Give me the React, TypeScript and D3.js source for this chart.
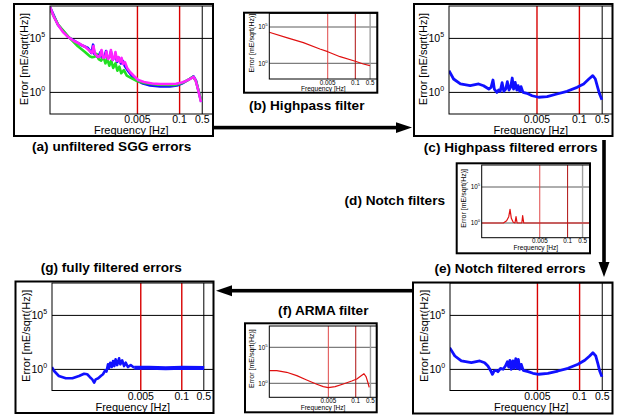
import React from 'react'
import * as d3 from 'd3'

// every curve point is [log10 frequency (Hz), log10 error (mE/sqrt(Hz))]
type Pt = [number, number]

const aBlue: Pt[] = [
  [-5.0, 7.91], [-4.75, 6.24], [-4.44, 5.13], [-4.07, 4.44], [-3.83, 4.11], [-3.72, 3.65], [-3.67, 4.42],
  [-3.63, 3.56], [-3.52, 3.24], [-3.44, 3.74], [-3.4, 3.19], [-3.32, 3.28], [-3.27, 3.83], [-3.23, 3.09],
  [-3.16, 3.28], [-3.12, 3.79], [-3.07, 3.0], [-3.01, 3.28], [-2.97, 3.37], [-2.93, 2.81], [-2.87, 3.19],
  [-2.81, 2.68], [-2.75, 2.91], [-2.69, 2.44], [-2.59, 1.98], [-2.47, 1.52], [-2.31, 1.1], [-2.13, 0.82],
  [-1.91, 0.64], [-1.6, 0.55], [-1.3, 0.55], [-1.08, 0.64], [-0.93, 0.82], [-0.74, 1.15], [-0.57, 1.48],
  [-0.49, 1.06], [-0.43, 0.31], [-0.37, -0.43], [-0.33, -0.89],
]
const aGreen: Pt[] = [
  [-5.0, 7.72], [-4.75, 6.27], [-4.44, 5.19], [-4.14, 4.27], [-3.93, 3.77], [-3.77, 3.34], [-3.7, 3.25],
  [-3.62, 3.31], [-3.56, 3.56], [-3.5, 3.09], [-3.42, 2.94], [-3.35, 3.31], [-3.29, 2.69], [-3.23, 3.09],
  [-3.17, 2.47], [-3.11, 2.94], [-3.05, 2.26], [-2.98, 2.69], [-2.92, 2.01], [-2.86, 2.38], [-2.8, 1.77],
  [-2.72, 2.07], [-2.63, 1.55], [-2.49, 1.33], [-2.34, 1.08], [-2.08, 0.87], [-1.67, 0.71], [-1.15, 0.68],
  [-0.95, 0.84], [-0.74, 1.15], [-0.59, 1.45], [-0.5, 1.08], [-0.41, 0.1], [-0.33, -0.86],
]
const aMagenta: Pt[] = [
  [-5.0, 7.91], [-4.88, 6.98], [-4.75, 6.24], [-4.6, 5.59], [-4.44, 5.13], [-4.26, 4.76], [-4.07, 4.48],
  [-3.89, 4.16], [-3.77, 3.83], [-3.7, 3.65], [-3.66, 4.3], [-3.61, 3.56], [-3.52, 3.28], [-3.46, 3.37],
  [-3.41, 3.93], [-3.36, 3.19], [-3.3, 3.28], [-3.26, 3.79], [-3.21, 3.09], [-3.15, 3.28], [-3.12, 3.93],
  [-3.07, 3.0], [-3.02, 3.19], [-2.98, 3.74], [-2.93, 2.91], [-2.89, 3.28], [-2.84, 2.81], [-2.79, 3.19],
  [-2.75, 2.63], [-2.69, 2.81], [-2.62, 2.26], [-2.53, 1.89], [-2.41, 1.52], [-2.28, 1.15], [-2.1, 0.96],
  [-1.85, 0.82], [-1.6, 0.78], [-1.36, 0.78], [-1.11, 0.8], [-0.93, 0.92], [-0.8, 1.06], [-0.68, 1.24],
  [-0.57, 1.43], [-0.51, 1.15], [-0.45, 0.5], [-0.39, -0.24], [-0.34, -0.89],
]
const cBlue: Pt[] = [
  [-5.0, 2.01], [-4.86, 1.24], [-4.65, 0.78], [-4.35, 0.62], [-4.09, 0.78], [-3.94, 0.62], [-3.78, 0.31],
  [-3.71, 0.47], [-3.65, 1.15], [-3.61, 0.31], [-3.53, 0.0], [-3.48, 0.22], [-3.43, 0.1], [-3.37, 0.9],
  [-3.32, 0.1], [-3.26, 0.31], [-3.21, 0.99], [-3.16, 0.22], [-3.11, 0.47], [-3.06, 1.33], [-3.02, 0.31],
  [-2.97, 0.93], [-2.92, 0.22], [-2.88, 0.62], [-2.83, 0.1], [-2.79, 0.53], [-2.73, 0.0], [-2.61, -0.08],
  [-2.45, -0.31], [-2.25, -0.45], [-1.99, -0.4], [-1.69, -0.15], [-1.38, 0.1], [-1.07, 0.47], [-0.87, 0.78],
  [-0.71, 1.24], [-0.59, 1.55], [-0.51, 1.24], [-0.44, 0.47], [-0.38, -0.15], [-0.31, -0.68],
]
const eBlue: Pt[] = [
  [-5.01, 2.01], [-4.85, 1.24], [-4.65, 0.78], [-4.34, 0.62], [-4.08, 0.78], [-3.93, 0.62], [-3.83, 0.31],
  [-3.74, -0.15], [-3.69, -0.45], [-3.64, -0.15], [-3.57, -0.09], [-3.52, -0.21], [-3.44, 0.1], [-3.36, 0.01],
  [-3.29, 0.31], [-3.23, 0.71], [-3.19, 0.22], [-3.15, 0.84], [-3.11, 0.01], [-3.06, 0.78], [-3.02, 0.1],
  [-2.97, 0.99], [-2.93, 0.1], [-2.89, 0.93], [-2.85, 0.01], [-2.8, 0.47], [-2.74, -0.09], [-2.59, -0.21],
  [-2.44, -0.36], [-2.26, -0.45], [-1.98, -0.36], [-1.67, -0.15], [-1.36, 0.1], [-1.05, 0.47], [-0.84, 0.84],
  [-0.69, 1.24], [-0.59, 1.55], [-0.5, 1.24], [-0.43, 0.47], [-0.38, -0.15], [-0.31, -0.68],
]
const gBlue: Pt[] = [
  [-5.12, 0.22], [-5.05, -0.15], [-4.9, -0.61], [-4.68, -0.82], [-4.47, -0.82], [-4.26, -0.61], [-4.1, -0.4],
  [-4.0, -0.45], [-3.92, -0.7], [-3.84, -0.92], [-3.78, -1.23], [-3.73, -0.92], [-3.65, -0.82], [-3.57, -0.61],
  [-3.5, -0.45], [-3.43, -0.09], [-3.39, -0.21], [-3.34, 0.47], [-3.31, 0.1], [-3.27, 0.62], [-3.22, 0.22],
  [-3.18, 0.78], [-3.14, 0.31], [-3.1, 0.93], [-3.05, 0.4], [-2.99, 1.03], [-2.95, 0.47], [-2.89, 0.84],
  [-2.83, 0.31], [-2.78, 0.62], [-2.71, 0.22], [-2.62, 0.4], [-2.51, 0.16],
]
const gFlat: Pt[] = [[-2.51, 0.16], [-2.04, 0.16], [-1.51, 0.1], [-0.98, 0.16], [-0.29, 0.12]]
const bRed: Pt[] = [
  [-5.06, 4.27], [-4.24, 3.53], [-3.45, 2.84], [-2.67, 1.97], [-2.3, 1.6], [-1.72, 0.91], [-1.0, 0.28],
  [-0.62, -0.1], [-0.31, -0.33],
]
const dRed: Pt[] = [
  [-5.01, 0], [-4.0, 0], [-3.85, 0.32], [-3.75, 0.88], [-3.69, 1.9], [-3.63, 0.65], [-3.54, 0.1], [-3.46, 0],
  [-3.41, 0.88], [-3.36, 0], [-3.14, 0], [-3.1, 1.02], [-3.05, 0], [0.05, 0],
]
const fRed: Pt[] = [
  [-5.1, 1.75], [-4.75, 1.75], [-4.28, 1.53], [-3.8, 1.06], [-3.33, 0.46], [-2.85, -0.14], [-2.54, -0.47],
  [-2.3, -0.61], [-1.98, -0.47], [-1.59, -0.1], [-1.19, 0.32], [-0.95, 0.6], [-0.76, 1.01], [-0.61, 1.33],
  [-0.51, 0.92], [-0.42, 0.08], [-0.36, -0.56],
]

const markerFreqs = [0.005, 0.1]
const edgeFreq = 0.5
const tickFreqs = [0.005, 0.1, 0.5]
const tickLabels = ['0.005', '0.1', '0.5']
const gridPowers = [0, 5]
const titles = [
  '(a) unfiltered SGG errors', '(b) Highpass filter', '(c) Highpass filtered errors', '(d) Notch filters',
  '(e) Notch filtered errors', '(f) ARMA filter', '(g) fully filtered errors',
]

const FONT = '"Liberation Sans", Arial, Helvetica, sans-serif'
const BLUE = '#1010ff'
const GREEN = '#22e022'
const MAGENTA = '#ff22ff'
const RED = '#e01010'

interface Series { data: Pt[]; color: string; width: number }
interface Spec {
  id: string
  box: number[] // x, y, w, h
  plot: number[] // left, top, right, bottom
  xr: [number, number] // pixels of 1e-5 Hz and 1 Hz
  yr: [number, number] // pixels of 1e0 and 1e5
  small: boolean
  series: Series[]
}

const panels: Spec[] = [
  { id: 'a', box: [14, 4, 199, 132], plot: [50, 6, 212.5, 114], xr: [50, 212], yr: [92.4, 38.4], small: false,
    series: [{ data: aBlue, color: BLUE, width: 2.6 }, { data: aGreen, color: GREEN, width: 2.6 }, { data: aMagenta, color: MAGENTA, width: 2.6 }] },
  { id: 'c', box: [414, 4, 198.5, 132], plot: [449, 6, 612.5, 114], xr: [449, 612], yr: [92.4, 38.4], small: false,
    series: [{ data: cBlue, color: BLUE, width: 2.8 }] },
  { id: 'e', box: [413, 282.5, 199.5, 131], plot: [450, 283, 612.5, 390.5], xr: [450, 612], yr: [369.4, 315.4], small: false,
    series: [{ data: eBlue, color: BLUE, width: 2.8 }] },
  { id: 'g', box: [15.5, 281.5, 198, 131.5], plot: [52, 283, 213.5, 390.5], xr: [55.7, 213.3], yr: [369.4, 315.4], small: false,
    series: [{ data: gBlue, color: BLUE, width: 2.6 }, { data: gFlat, color: BLUE, width: 4 }] },
  { id: 'b', box: [244, 12.7, 133.3, 80], plot: [269.3, 13.3, 377.3, 79], xr: [270.5, 376.5], yr: [63.3, 27], small: true,
    series: [{ data: bRed, color: RED, width: 1.2 }] },
  { id: 'd', box: [456.7, 163.3, 133.3, 90], plot: [481.7, 165, 590, 237.7], xr: [482, 589], yr: [223, 187], small: true,
    series: [{ data: dRed, color: RED, width: 1.2 }] },
  { id: 'f', box: [245, 323.3, 131.7, 89], plot: [269.3, 326, 376.7, 397.3], xr: [271.5, 376.8], yr: [383.3, 347.3], small: true,
    series: [{ data: fRed, color: RED, width: 1.2 }] },
]

// title positions: x, baseline, anchor
const titlePos: [number, number, string][] = [
  [111.7, 151, 'middle'], [306.7, 110, 'middle'], [510.7, 151.5, 'middle'], [445, 205, 'end'],
  [510, 272.5, 'middle'], [323.3, 315, 'middle'], [111.3, 272.3, 'middle'],
]

function Panel({ spec }: { spec: Spec }) {
  const [l, t, r, b] = spec.plot
  const [bx, by, bw, bh] = spec.box
  const x = d3.scaleLog().domain([1e-5, 1]).range(spec.xr)
  const y = d3.scaleLog().domain([1, 1e5]).range(spec.yr)
  const line = d3.line<Pt>().x(d => x(10 ** d[0])).y(d => y(10 ** d[1]))
  const s = spec.small
  const fs = s ? { tick: 6.3, sup: 4.3, lab: 6.6, ylab: 7 } : { tick: 10.5, sup: 7, lab: 11, ylab: 11 }
  const clip = 'clip-' + spec.id
  return (
    <g>
      <defs>
        <clipPath id={clip}><rect x={l} y={t} width={r - l} height={b - t} /></clipPath>
      </defs>
      <rect x={bx} y={by} width={bw} height={bh} fill="#fff" />
      {gridPowers.map(p => (
        <line key={p} x1={l} x2={r} y1={y(10 ** p)} y2={y(10 ** p)} stroke={s ? '#333' : '#000'} strokeWidth={s ? 0.8 : 1} />
      ))}
      {markerFreqs.map((f, i) => (
        <line key={f} x1={x(f)} x2={x(f)} y1={t} y2={b}
          stroke={s ? (i === 0 ? '#e04848' : '#b01010') : '#d80000'} strokeWidth={s ? 1 : 1.4} />
      ))}
      <line x1={x(edgeFreq)} x2={x(edgeFreq)} y1={t} y2={b} stroke={s ? '#a0a0a0' : '#000'} strokeWidth={s ? 1.4 : 1} />
      <g clipPath={`url(#${clip})`}>
        {spec.series.map((se, i) => (
          <path key={i} d={line(se.data) || ''} fill="none" stroke={se.color} strokeWidth={se.width} strokeLinejoin="round" />
        ))}
      </g>
      <rect x={l} y={t} width={r - l} height={b - t} fill="none" stroke="#000" strokeWidth={1} />
      <rect x={bx} y={by} width={bw} height={bh} fill="none" stroke="#000" strokeWidth={2} />
      {gridPowers.map(p => (
        <text key={p} x={l - (s ? 11 : 20.5)} y={y(10 ** p) + (s ? 2.3 : 4)} fontSize={fs.tick}>
          10<tspan fontSize={fs.sup} dy={s ? -3 : -5.5}>{p}</tspan>
        </text>
      ))}
      {tickFreqs.map((f, i) => (
        <text key={f} x={x(f)} y={b + (s ? 5.5 : 9)} fontSize={fs.tick} textAnchor="middle">{tickLabels[i]}</text>
      ))}
      <text x={(l + r) / 2} y={b + (s ? 12.3 : 20)} fontSize={fs.lab} textAnchor="middle">Frequency [Hz]</text>
      <text transform={`translate(${l - (s ? 15.5 : 22)},${(t + b) / 2 - (s ? 3 : 1)}) rotate(-90)`} fontSize={fs.ylab} textAnchor="middle">
        Error [mE/sqrt(Hz)]
      </text>
    </g>
  )
}

export default function App() {
  return (
    <svg width={622} height={416} fontFamily={FONT} style={{ position: 'absolute', left: 0, top: 0, background: '#fff' }}>
      <rect width={622} height={416} fill="#fff" />
      {panels.map(p => <Panel key={p.id} spec={p} />)}
      {titles.map((tt, i) => (
        <text key={tt} x={titlePos[i][0]} y={titlePos[i][1]} textAnchor={titlePos[i][2]} fontSize={13.6} fontWeight="bold">{tt}</text>
      ))}
      {/* arrows between the stages */}
      <g fill="#000">
        <rect x={213} y={125.8} width={184} height={3.6} />
        <path d="M396,122.3 L412,127.6 L396,133 Z" />
        <rect x={602.2} y={140} width={3.6} height={123} />
        <path d="M598.5,262 L609.5,262 L604,277 Z" />
        <rect x={231} y={288.9} width={182} height={3.6} />
        <path d="M232,285.2 L232,296.2 L216,290.7 Z" />
      </g>
    </svg>
  )
}
